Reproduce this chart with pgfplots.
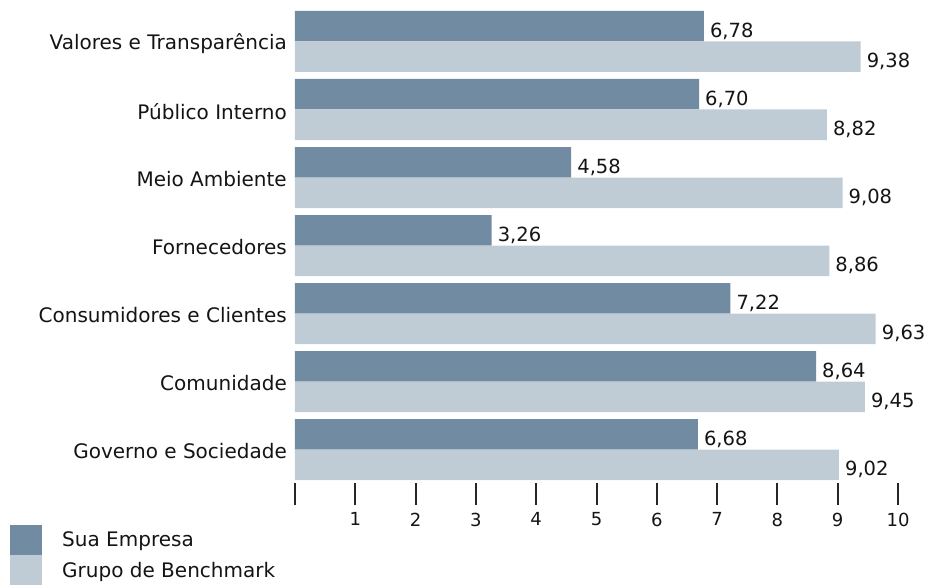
\documentclass[border=0pt]{standalone}
\usepackage{pgfplots}
\pgfplotsset{compat=1.18}
\usepackage{fontspec}
\setmainfont{DejaVu Sans}
\definecolor{darkc}{RGB}{112,139,162}
\definecolor{lightc}{RGB}{191,204,214}
\definecolor{txt}{RGB}{20,20,20}
\newcommand{\lblfont}{\fontsize{20bp}{23bp}\selectfont}
\newcommand{\tickfont}{\fontsize{18bp}{21bp}\selectfont}
\newcommand{\valfont}{\fontsize{19.5bp}{22bp}\selectfont}
\begin{document}
\begin{tikzpicture}
\begin{axis}[
  scale only axis, width=603bp, height=472bp,
  xmin=0, xmax=10, ymin=-0.4926, ymax=6.4485,
  clip=false,
  axis line style={draw=none},
  xtick={0,...,10}, xticklabels={{},1,2,3,4,5,6,7,8,9,10},
  xtick pos=bottom, ytick pos=left, tick align=outside,
  major tick length=22bp,
  x tick style={line width=2bp, black!85},
  y tick style={draw=none},
  ytick={0,...,6},
  yticklabels={Governo e Sociedade, Comunidade, Consumidores e Clientes, Fornecedores, Meio Ambiente, Público Interno, Valores e Transparência},
  /pgf/number format/assume math mode=true,
  /pgf/number format/use comma,
  /pgf/number format/fixed,
  /pgf/number format/fixed zerofill,
  /pgf/number format/precision=2,
  x tick label style={font=\tickfont, text=txt, inner sep=0pt, yshift=-7.5bp},
  y tick label style={font=\lblfont, text=txt, inner sep=0pt, xshift=14bp, yshift=-2bp},
  point meta=x,
  nodes near coords,
  nodes near coords style={font=\valfont, text=txt, inner sep=0pt, xshift=6bp},
  legend style={at={(rel axis cs:-0.4726,-0.0890)}, anchor=north west,
    draw=none, fill=none, inner sep=0pt, row sep=0pt,
    font=\lblfont, text=txt,
    nodes={inner sep=0pt, anchor=west},
    /tikz/every odd column/.append style={column sep=20bp}},
  legend cell align=left,
]
\addplot[xbar, bar width=30.5bp, bar shift=15.25bp, fill=darkc, draw=none,
  every node near coord/.append style={yshift=10.5bp},
  legend image code/.code={\fill[darkc] (0bp,-15bp) rectangle (32bp,15bp);}]
  coordinates {(6.78,6) (6.70,5) (4.58,4) (3.26,3) (7.22,2) (8.64,1) (6.68,0)};
\addlegendentry{Sua Empresa}
\addplot[xbar, bar width=30.5bp, bar shift=-15.25bp, fill=lightc, draw=none,
  every node near coord/.append style={yshift=-19.5bp},
  legend image code/.code={\fill[lightc] (0bp,-15bp) rectangle (32bp,15bp);}]
  coordinates {(9.38,6) (8.82,5) (9.08,4) (8.86,3) (9.63,2) (9.45,1) (9.02,0)};
\addlegendentry{Grupo de Benchmark}
\path (rel axis cs:-0.4892,1.0233) rectangle (rel axis cs:1.0464,-0.2182);
\end{axis}
\end{tikzpicture}
\end{document}
